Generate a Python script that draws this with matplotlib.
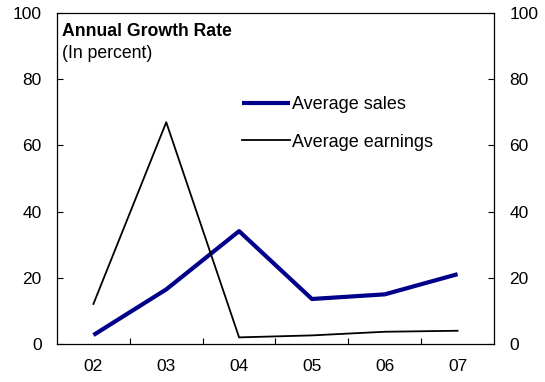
import matplotlib
matplotlib.use("Agg")
import matplotlib.pyplot as plt
import numpy as np

plt.rcParams['font.family'] = ['Liberation Sans', 'DejaVu Sans']

years = ['02', '03', '04', '05', '06', '07']
avg_sales = [2.7, 16.5, 34.1, 13.6, 15.0, 21.1]
avg_earnings = [12.1, 67.0, 2.0, 2.6, 3.7, 4.0]

fig = plt.figure(figsize=(5.45, 3.82), dpi=100)
ax = fig.add_axes([57/545, 1 - 344/382, 437/545, 331/382])

x = np.arange(len(years))
ax.plot(x, avg_sales, color='#00008b', lw=3.0, label='Average sales', solid_capstyle='butt')
ax.plot(x, avg_earnings, color='black', lw=1.3, label='Average earnings')

ax.set_xlim(-0.5, len(years) - 0.5)
ax.set_ylim(0, 100)
ax.set_yticks(range(0, 101, 20))
ax.set_xticks(x)
ax.set_xticklabels(years)
ax.set_xticks(np.arange(0.5, len(years) - 1, 1), minor=True)
ax.tick_params(axis='x', which='major', length=0, pad=11, labelsize=12.5)
ax.tick_params(axis='x', which='minor', direction='in', length=4, width=0.8)
ax.tick_params(axis='y', direction='in', length=4, width=0.8, labelsize=12.5,
               right=True, labelright=True, pad=11)
for s in ax.spines.values():
    s.set_linewidth(0.9)

ax.text(0.012, 0.930, 'Annual Growth Rate', transform=ax.transAxes,
        fontsize=12.7, fontweight='bold', va='baseline', ha='left')
ax.text(0.012, 0.864, '(In percent)', transform=ax.transAxes,
        fontsize=12.7, va='baseline', ha='left')

ax.legend(loc='upper left', bbox_to_anchor=(0.423, 0.749), frameon=False,
          fontsize=13, handlelength=2.66, handletextpad=0.1,
          labelspacing=1.14, borderpad=0, borderaxespad=0)

fig.savefig('out.png', dpi=100)
